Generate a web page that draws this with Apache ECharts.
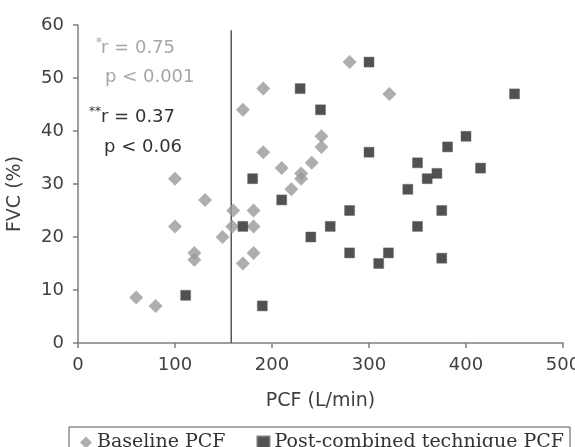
<!DOCTYPE html>
<html>
<head>
<meta charset="utf-8">
<script src="https://cdn.jsdelivr.net/npm/echarts@6/dist/echarts.min.js"></script>
<style>
  html, body { margin: 0; padding: 0; background: #fff; }
  #chart { width: 575px; height: 447px; }
</style>
</head>
<body>
<div id="chart"></div>
<script>
// data
const baselinePCF = [60, 80, 100, 100, 131, 120, 120, 149, 160, 159, 170, 181, 181, 181,
                     220, 170, 191, 191, 210, 280, 321, 251, 251, 241, 230, 230]
const baselineFVC = [8.6, 7, 31, 22, 27, 17, 15.7, 20, 25, 22, 15, 25, 22, 17,
                     29, 44, 48, 36, 33, 53, 47, 39, 37, 34, 32, 31]

const postPCF = [111, 170, 180, 190, 210, 229, 250, 300, 450, 300, 400, 381, 350,
                 415, 360, 370, 340, 280, 260, 240, 280, 310, 320, 350, 375, 375]
const postFVC = [9, 22, 31, 7, 27, 48, 44, 53, 47, 36, 39, 37, 34,
                 33, 31, 32, 29, 25, 22, 20, 17, 15, 17, 22, 25, 16]

const cutoffLine = [[158, 0], [158, 59]]

const seriesNames = ['Baseline PCF', 'Post-combined technique PCF']

const zip = (xs, ys) => xs.map((x, i) => [x, ys[i]])

const chart = echarts.init(document.getElementById('chart'))

const axisColor = '#7f7f7f'
const textColor = '#404040'
const sansFont = 'DejaVu Sans'

const option = {
    animation: false,
    grid: {
        left: 78,
        right: 12,
        top: 25,
        bottom: 104,
        outerBoundsMode: 'none'
    },
    xAxis: {
        type: 'value',
        min: 0,
        max: 500,
        interval: 100,
        name: 'PCF (L/min)',
        nameLocation: 'middle',
        nameGap: 49,
        nameTextStyle: { fontFamily: sansFont, fontSize: 19, color: textColor },
        axisLine: { lineStyle: { color: axisColor, width: 1.5 } },
        axisTick: { show: true, inside: false, length: 5, lineStyle: { color: axisColor, width: 1.5 } },
        axisLabel: { fontFamily: sansFont, fontSize: 18, color: textColor, margin: 13 },
        splitLine: { show: false }
    },
    yAxis: {
        type: 'value',
        min: 0,
        max: 60,
        interval: 10,
        name: 'FVC (%)',
        nameLocation: 'middle',
        nameGap: 53,
        nameTextStyle: { fontFamily: sansFont, fontSize: 19, color: textColor, padding: [0, 20, 0, 0] },
        axisLine: { show: true, lineStyle: { color: axisColor, width: 1.5 } },
        axisTick: { show: true, inside: false, length: 5, lineStyle: { color: axisColor, width: 1.5 } },
        axisLabel: { fontFamily: sansFont, fontSize: 18, color: textColor, margin: 14 },
        splitLine: { show: false }
    },
    legend: {
        data: [
            { name: seriesNames[0], icon: 'diamond' },
            { name: seriesNames[1], icon: 'rect' }
        ],
        left: 69,
        top: 427,
        width: 520,
        padding: [6, 6, 6, 11],
        itemGap: 31,
        itemWidth: 12,
        itemHeight: 12,
        borderColor: '#555',
        borderWidth: 1,
        textStyle: { fontFamily: 'DejaVu Serif', fontSize: 19, color: '#333' }
    },
    series: [
        {
            name: 'cutoff',
            type: 'line',
            data: cutoffLine,
            symbol: 'none',
            silent: true,
            z: 1,
            lineStyle: { color: '#555', width: 1.5 }
        },
        {
            name: seriesNames[0],
            type: 'scatter',
            data: zip(baselinePCF, baselineFVC),
            symbol: 'diamond',
            symbolSize: [14, 14],
            z: 3,
            itemStyle: { color: '#9a9a9a' }
        },
        {
            name: seriesNames[1],
            type: 'scatter',
            data: zip(postPCF, postFVC),
            symbol: 'rect',
            symbolSize: 10,
            z: 4,
            itemStyle: { color: '#262626', borderColor: '#666', borderWidth: 0.6 }
        }
    ],
    graphic: [
        { type: 'text', x: 96, y: 43, style: { text: '*', font: '12px DejaVu Sans', fill: '#a6a6a6', textVerticalAlign: 'middle' } },
        { type: 'text', x: 101, y: 48, style: { text: 'r = 0.75', font: '18px DejaVu Sans', fill: '#a6a6a6', textVerticalAlign: 'middle' } },
        { type: 'text', x: 105, y: 77, style: { text: 'p < 0.001', font: '18px DejaVu Sans', fill: '#a6a6a6', textVerticalAlign: 'middle' } },
        { type: 'text', x: 89, y: 112, style: { text: '**', font: '12px DejaVu Sans', fill: '#333', textVerticalAlign: 'middle' } },
        { type: 'text', x: 101, y: 117, style: { text: 'r = 0.37', font: '18px DejaVu Sans', fill: '#333', textVerticalAlign: 'middle' } },
        { type: 'text', x: 104, y: 147, style: { text: 'p < 0.06', font: '18px DejaVu Sans', fill: '#333', textVerticalAlign: 'middle' } }
    ]
}

chart.setOption(option)
</script>
</body>
</html>
